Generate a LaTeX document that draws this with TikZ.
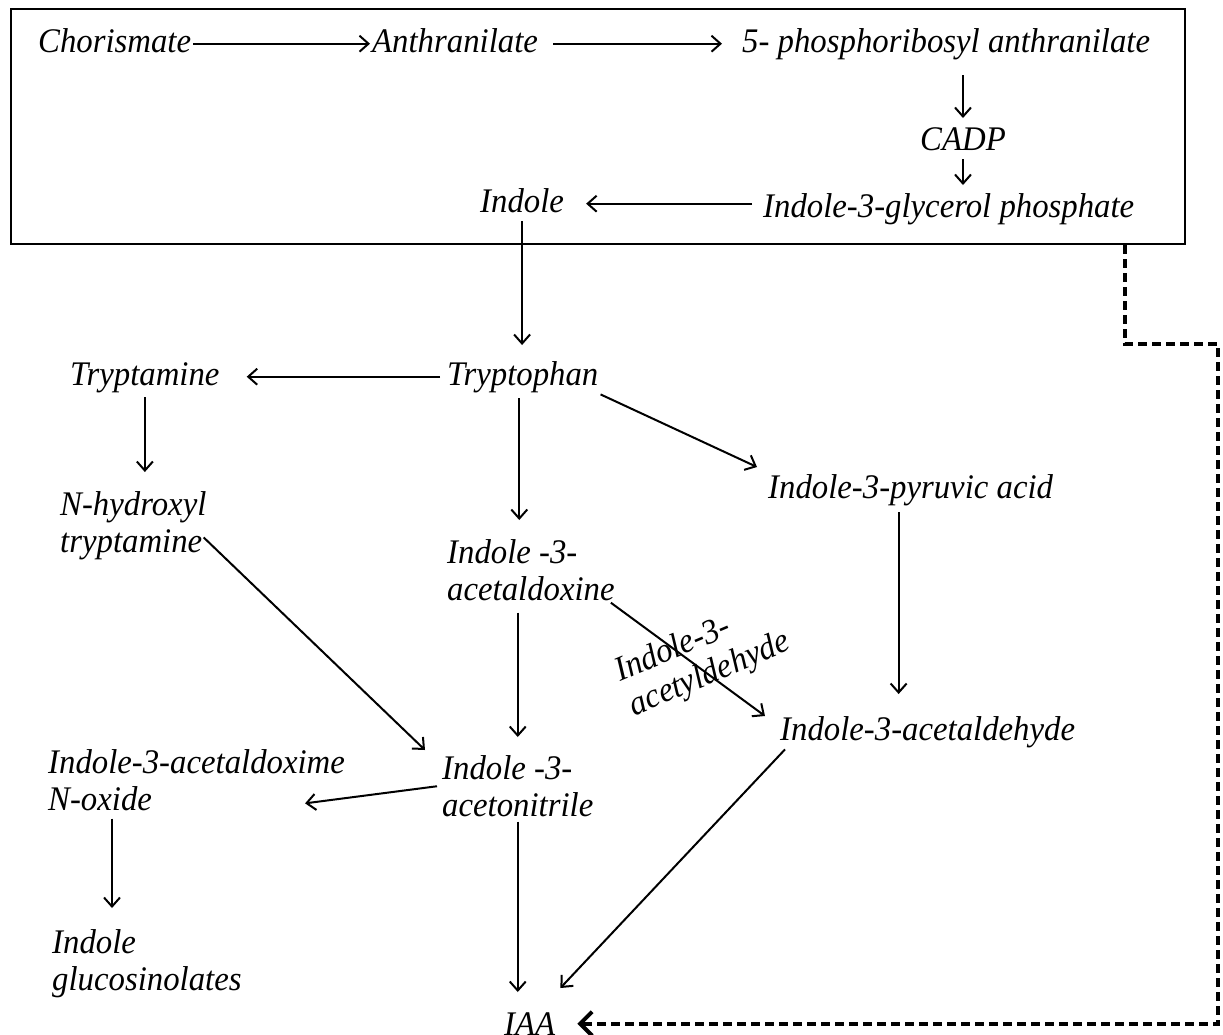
\documentclass[tikz,border=0pt]{standalone}
\usepackage{fontspec}
\setmainfont[FakeStretch=0.95]{Liberation Serif}
\usetikzlibrary{arrows.meta}
\begin{document}
\begin{tikzpicture}[x=1pt,y=-1pt,
  lbl/.style={font=\fontsize{34.5}{37}\selectfont\itshape, inner sep=2pt, text height=24pt, text depth=7pt, anchor=north west},
  mlbl/.style={font=\fontsize{34.5}{37}\selectfont\itshape, inner sep=2pt, anchor=north west, align=left},
  arr/.style={line width=2pt, -{Straight Barb[length=9pt,width=16pt,line width=2pt]}},
  dsh/.style={line width=4pt, dash pattern=on 9pt off 5pt, -{Straight Barb[length=12pt,width=24pt,line width=4pt]}}]
\useasboundingbox (0,0) rectangle (1223,1034);
\fill[white] (0,0) rectangle (1223,1034);
% box
\node[draw, line width=2pt, minimum width=1174pt, minimum height=235pt, anchor=north west, inner sep=0pt] (box) at (10,8) {};
% nodes
\node[lbl] (chor) at (36,26) {Chorismate};
\node[lbl] (anth) at (370,26) {Anthranilate};
\node[lbl] (prpa) at (740,26) {5- phosphoribosyl anthranilate};
\node[lbl] (cadp) at (918,124) {CADP};
\node[lbl] (igp) at (761,191) {Indole-3-glycerol phosphate};
\node[lbl] (ind) at (478,186) {Indole};
\node[lbl] (trp) at (445,359) {Tryptophan};
\node[lbl] (tam) at (68,359) {Tryptamine};
\node[mlbl] (nhx) at (58,489) {N-hydroxyl\\tryptamine};
\node[mlbl] (aldox) at (445,537) {Indole -3-\\acetaldoxine};
\node[lbl] (pyr) at (766,472) {Indole-3-pyruvic acid};
\node[lbl] (ald) at (778,714) {Indole-3-acetaldehyde};
\node[mlbl] (nox) at (46,747) {Indole-3-acetaldoxime\\N-oxide};
\node[mlbl] (nit) at (440,753) {Indole -3-\\acetonitrile};
\node[mlbl] (gluc) at (50,927) {Indole\\glucosinolates};
\node[lbl] (iaa) at (502,1009) {IAA};
\node[mlbl, anchor=center, rotate=23] (ladh) at (703,658) {Indole-3-\\acetyldehyde};
% connectors
\draw[arr] (chor.east) -- (anth.west);
\draw[arr, shorten <=13pt, shorten >=18pt] (anth.east) -- (prpa.west);
\draw[arr, shorten <=14pt, shorten >=6pt] (cadp.north |- prpa.south) -- (cadp.north);
\draw[arr, shorten >=6pt] (cadp.south) -- (cadp.south |- igp.north);
\draw[arr, shorten <=9pt, shorten >=20pt] (ind.east -| igp.west) -- (ind.east);
\draw[arr, shorten >=14pt] (ind.south) -- (ind.south |- trp.north);
\draw[arr, shorten <=5pt, shorten >=25pt] (trp.west) -- (tam.west -| tam.east);
\draw[arr, shorten <=3pt, shorten >=17pt] (tam.south) -- (tam.south |- nhx.north);
\draw[arr] ([xshift=-5pt,yshift=-12pt]nhx.east) -- ([xshift=-15pt,yshift=3pt]nit.north west);
\draw[arr, shorten <=4pt, shorten >=17pt] ([xshift=-3.5pt]trp.south) -- ([xshift=-3.5pt]trp.south |- aldox.north);
\draw[arr] (trp.south east) -- ([xshift=-9pt,yshift=5pt]pyr.north west);
\draw[arr, shorten <=5pt, shorten >=20pt] ([xshift=-12pt]pyr.south) -- ([xshift=-12pt]pyr.south |- ald.north);
\draw[arr] ([xshift=-6pt]aldox.south east) -- ([xshift=-13pt,yshift=-2pt]ald.north west);
\draw[arr, shorten <=10pt, shorten >=16pt] (nit.north |- aldox.south) -- (nit.north);
\draw[arr, shorten <=3pt] (nit.west) -- ([xshift=-42pt,yshift=-23.5pt]nox.east);
\draw[arr, shorten <=6pt, shorten >=19pt] ([xshift=66pt]nox.south west) -- ([xshift=62pt]gluc.north west);
\draw[arr, shorten <=3pt, shorten >=17pt] (nit.south) -- (nit.south |- iaa.north);
\draw[arr] ([xshift=7pt]ald.south west) -- ([xshift=3pt,yshift=21pt]iaa.north east);
\draw[dsh, shorten >=20pt] ([xshift=-61pt]box.south east) -- ++(0,99) -- ++(93,0) |- ([yshift=3pt]iaa.east);
\end{tikzpicture}
\end{document}
